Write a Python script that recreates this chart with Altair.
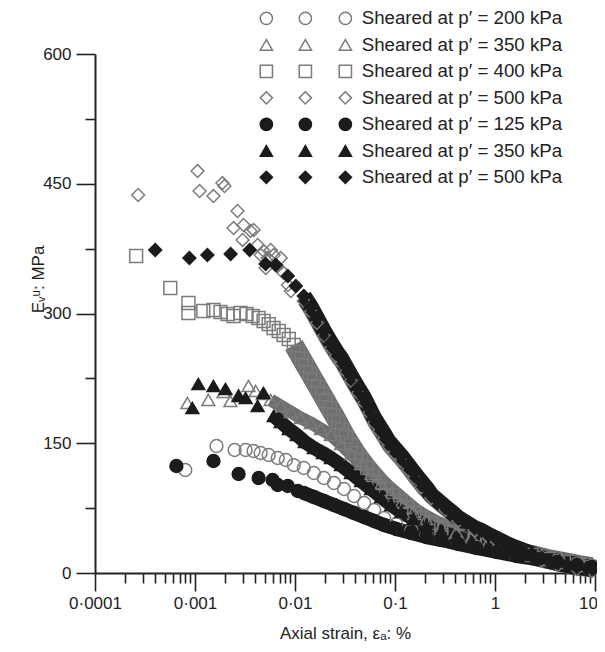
import altair as alt
import pandas as pd

# ---------------- data ----------------
SERIES = ["a200", "b350", "c400", "d500", "e125", "f350", "g500"]
SHAPES = ["circle", "triangle-up", "square", "diamond", "circle", "triangle-up", "diamond"]

# open circles, p' = 200 kPa
A200_EARLY_X = [8.0e-4, 1.64e-3, 2.49e-3, 3.21e-3, 3.85e-3, 4.53e-3, 5.46e-3, 6.72e-3, 8.1e-3, 9.73e-3]
A200_EARLY_Y = [119.1, 146.8, 142.2, 142.2, 141.0, 138.7, 136.4, 132.9, 130.6, 124.8]
A200_BAND_X = [0.01225, 0.01545, 0.01946, 0.02452, 0.0309, 0.0389, 0.0491, 0.0618, 0.0779, 0.1028,
               0.1455, 0.2056, 0.2909, 0.431, 0.653, 1.04, 1.65, 2.62, 4.15, 6.59, 9.33]
A200_BAND_Y = [121.4, 115.6, 109.8, 104.0, 97.1, 89.0, 80.9, 72.8, 63.6, 56.6,
               49.7, 43.9, 39.3, 34.7, 30.1, 25.4, 20.8, 17.3, 13.9, 10.4, 8.1]

# open triangles, p' = 350 kPa
B350_EARLY_X = [8.39e-4, 1.36e-3, 1.93e-3, 2.26e-3, 2.73e-3, 3.43e-3, 4.04e-3, 4.75e-3]
B350_EARLY_Y = [196.5, 200.0, 209.2, 198.8, 205.8, 216.2, 210.4, 206.9]
B350_BAND_X = [0.00571, 0.0072, 0.00908, 0.01143, 0.01441, 0.01815, 0.02287, 0.02882, 0.0363, 0.0458,
               0.0577, 0.0727, 0.0916, 0.1153, 0.1523, 0.2056, 0.2909, 0.4114, 0.582, 0.862,
               1.31, 1.94, 2.94, 4.66, 7.41, 9.77]
B350_BAND_Y = [200.0, 193.1, 186.1, 179.2, 173.4, 166.5, 159.5, 149.1, 137.6, 126.0,
               114.4, 102.9, 92.5, 80.9, 70.5, 62.4, 54.3, 47.4, 41.6, 35.8,
               30.1, 25.4, 20.8, 16.2, 11.6, 8.1]

# open squares, p' = 400 kPa
C400_EARLY_X = [2.58e-4, 5.66e-4, 8.6e-4, 8.6e-4, 1.21e-3, 1.53e-3, 1.80e-3, 2.12e-3, 2.43e-3, 2.85e-3,
                3.28e-3, 3.77e-3, 4.32e-3, 4.85e-3, 5.46e-3, 6.1e-3, 6.88e-3, 7.7e-3, 8.67e-3]
C400_EARLY_Y = [366.5, 329.5, 312.1, 300.6, 302.9, 304.0, 301.7, 299.4, 297.1, 300.6,
                299.4, 297.1, 294.8, 291.3, 287.8, 283.2, 279.8, 275.1, 270.5]
C400_BAND_X = [0.00973, 0.01067, 0.0117, 0.01283, 0.01409, 0.01545, 0.01694, 0.01858, 0.02037, 0.02234,
               0.02452, 0.0269, 0.02951, 0.03237, 0.0363, 0.0408, 0.0458, 0.0526, 0.0604, 0.0694,
               0.0817, 0.0959, 0.1128, 0.1325, 0.1559, 0.1875, 0.2308, 0.2909, 0.3664, 0.473,
               0.624, 0.843, 1.16, 1.65, 2.33, 3.37, 4.89, 6.91, 9.33]
C400_BAND_Y = [263.6, 255.5, 247.4, 239.3, 231.2, 223.1, 215.0, 206.9, 198.8, 190.7,
               182.6, 174.6, 165.3, 157.2, 148.0, 138.7, 130.6, 121.4, 113.3, 105.2,
               97.1, 90.2, 83.2, 76.3, 69.4, 63.6, 57.8, 52.0, 47.4, 42.8,
               38.1, 33.5, 28.9, 24.3, 20.8, 16.2, 12.7, 9.2, 6.9]

# open diamonds, p' = 500 kPa
D500_EARLY_X = [2.70e-4, 1.06e-3, 1.11e-3, 1.53e-3, 1.88e-3, 1.97e-3, 2.66e-3, 2.43e-3, 3.06e-3, 3.59e-3,
                2.99e-3, 3.86e-3, 4.23e-3, 4.54e-3, 4.86e-3, 5.71e-3, 6.12e-3, 5.33e-3, 7.20e-3, 5.10e-3,
                6.57e-3, 7.7e-3, 8.5e-3, 9.08e-3]
D500_EARLY_Y = [437.0, 464.7, 441.6, 435.8, 450.8, 447.4, 418.5, 398.8, 402.3, 395.4,
                385.0, 396.5, 379.2, 367.6, 372.2, 373.4, 367.6, 364.1, 364.1, 352.6,
                354.9, 346.8, 332.9, 326.0]
D500_BAND_X = [0.01225, 0.01441, 0.01655, 0.01946, 0.02287, 0.0257, 0.02882, 0.03237, 0.0363, 0.0427,
               0.0491, 0.0551, 0.0618, 0.0694, 0.0779, 0.0855, 0.0982, 0.1153, 0.1357, 0.1559,
               0.1832, 0.2308, 0.319, 0.431, 0.624, 0.862, 1.25, 1.85, 2.94, 4.25, 6.59, 9.33]
D500_BAND_Y = [314.4, 301.7, 289.0, 274.0, 260.1, 250.9, 242.8, 232.4, 222.0, 208.1,
               196.5, 184.9, 173.4, 164.2, 154.9, 146.8, 138.7, 129.5, 119.1, 109.8,
               99.4, 86.7, 72.8, 60.1, 48.6, 40.5, 31.2, 23.1, 15.0, 9.2, 4.6, 2.3]

# filled circles, p' = 125 kPa
E125_EARLY_X = [6.51e-4, 1.53e-3, 2.73e-3, 4.33e-3, 5.98e-3, 6.72e-3, 8.47e-3, 0.01067]
E125_EARLY_Y = [123.7, 129.5, 114.4, 109.8, 107.5, 101.7, 100.6, 94.8]
E125_BAND_X = [0.01225, 0.01545, 0.01946, 0.02452, 0.0309, 0.0389, 0.0491, 0.0618, 0.0779, 0.1028,
               0.1455, 0.2056, 0.2909, 0.431, 0.653, 1.04, 1.65, 2.62, 4.15, 6.59, 9.33]
E125_BAND_Y = [92.5, 87.9, 83.2, 78.6, 74.0, 69.4, 64.7, 60.1, 55.5, 50.9,
               46.2, 41.6, 38.1, 33.5, 28.9, 24.3, 19.7, 16.2, 12.7, 9.2, 6.9]

# filled triangles, p' = 350 kPa
F350_EARLY_X = [1.08e-3, 1.53e-3, 2.02e-3, 9.42e-4, 2.73e-3, 3.21e-3, 4.23e-3, 4.85e-3]
F350_EARLY_Y = [218.5, 216.2, 212.7, 190.7, 204.6, 202.3, 193.1, 208.1]
F350_BAND_X = [0.00612, 0.0072, 0.00867, 0.01042, 0.01254, 0.01545, 0.01901, 0.02287, 0.02882, 0.0363,
               0.0458, 0.0577, 0.0727, 0.0916, 0.1153, 0.1523, 0.2056, 0.2909, 0.4114, 0.582,
               0.862, 1.31, 1.94, 2.94, 4.45, 6.59, 9.33]
F350_BAND_Y = [181.5, 174.6, 166.5, 159.5, 151.4, 144.5, 138.7, 132.9, 124.8, 115.6,
               106.4, 97.1, 87.9, 78.6, 70.5, 62.4, 54.3, 47.4, 41.6, 35.8,
               30.1, 25.4, 20.8, 17.3, 13.9, 10.4, 6.9]

# filled diamonds, p' = 500 kPa
G500_EARLY_X = [4.0e-4, 8.79e-4, 1.33e-3, 2.27e-3, 3.52e-3, 5.09e-3, 6.42e-3, 8.47e-3, 0.0102]
G500_EARLY_Y = [373.4, 364.1, 367.6, 368.8, 373.4, 357.2, 356.0, 343.3, 331.8]
G500_BAND_X = [0.01225, 0.01441, 0.01655, 0.01946, 0.02287, 0.0257, 0.02882, 0.03237, 0.0363, 0.0427,
               0.0491, 0.0551, 0.0618, 0.0694, 0.0779, 0.0855, 0.0982, 0.1153, 0.1357, 0.1559,
               0.1832, 0.2056, 0.2308, 0.2715, 0.319, 0.3664, 0.431, 0.518, 0.624, 0.733,
               0.862, 1.04, 1.25, 1.54, 1.85, 2.33, 2.94, 3.45, 4.25, 5.24,
               6.59, 8.31, 9.6]
G500_BAND_Y = [320.2, 307.5, 294.8, 279.8, 265.9, 256.6, 248.5, 238.1, 227.7, 213.9,
               202.3, 190.7, 179.2, 169.9, 160.7, 152.6, 144.5, 135.3, 124.8, 115.6,
               105.2, 98.3, 90.2, 83.2, 76.3, 70.5, 63.6, 57.8, 52.0, 48.6,
               43.9, 39.3, 34.7, 30.1, 26.6, 22.0, 17.3, 13.9, 11.6, 9.2,
               6.9, 5.8, 4.6]

Y_TICKS = [0, 75, 150, 225, 300, 375, 450, 525, 600]
X_TICKS = [m * 10.0 ** e for e in range(-4, 1) for m in range(1, 10)] + [10.0]

# ---------------- build tables ----------------
series_data = {
    "a200": (A200_EARLY_X, A200_EARLY_Y, A200_BAND_X, A200_BAND_Y),
    "b350": (B350_EARLY_X, B350_EARLY_Y, B350_BAND_X, B350_BAND_Y),
    "c400": (C400_EARLY_X, C400_EARLY_Y, C400_BAND_X, C400_BAND_Y),
    "d500": (D500_EARLY_X, D500_EARLY_Y, D500_BAND_X, D500_BAND_Y),
    "e125": (E125_EARLY_X, E125_EARLY_Y, E125_BAND_X, E125_BAND_Y),
    "f350": (F350_EARLY_X, F350_EARLY_Y, F350_BAND_X, F350_BAND_Y),
    "g500": (G500_EARLY_X, G500_EARLY_Y, G500_BAND_X, G500_BAND_Y),
}
pt_rows, band_rows = [], []
for s in SERIES:
    ex, ey, bx, by = series_data[s]
    assert len(ex) == len(ey) and len(bx) == len(by), s
    for xv, yv in zip(ex + bx, ey + by):
        pt_rows.append({"series": s, "x": xv, "y": yv})
    for i, (xv, yv) in enumerate(zip(bx, by)):
        band_rows.append({"series": s, "x": xv, "y": yv, "ord": i})
pts_df = pd.DataFrame(pt_rows)
band_df = pd.DataFrame(band_rows)

# ---------------- style ----------------
FONT = "Liberation Sans"
INK = "#222222"
GRAY = "#7b7b7b"
BAND_GRAY = "#6e6e6e"
BLACK = "#1b1b1b"
FILLS = ["transparent"] * 4 + [BLACK] * 3
STROKES = [GRAY] * 4 + [BLACK] * 3
BAND_STYLE = {  # series -> (colour, width); open circles have no underlying band
    "b350": (BAND_GRAY, 13), "c400": (BAND_GRAY, 20), "d500": (BAND_GRAY, 13),
    "e125": (BLACK, 14), "f350": (BLACK, 14), "g500": (BLACK, 16),
}

x_scale = alt.Scale(type="log", domain=[1e-4, 10], nice=False)
y_scale = alt.Scale(domain=[0, 600], nice=False, zero=False)

major_x = "abs(log(datum.value)/LN10 - round(log(datum.value)/LN10)) < 0.001"
x_axis = alt.Axis(
    values=X_TICKS, grid=False, labelOverlap=False, labelFlush=False,
    labelExpr=f"{major_x} ? replace(format(datum.value, '~f'), '.', '·') : ''",
    labelOffset={"condition": {"test": "datum.value > 5", "value": -7}, "value": 0},
    tickSize={"condition": {"test": major_x, "value": 18}, "value": 10},
    tickColor=INK, tickWidth=1.6, domainColor=INK, domainWidth=2,
    labelFont=FONT, labelFontSize=17, labelColor=INK, labelPadding=4,
    title="Axial strain, εₐ: %", titleFont=FONT, titleFontSize=17, titleFontWeight="normal",
    titleColor=INK, titleBaseline="alphabetic", titleY=65,
)
major_y = "datum.value % 150 == 0"
y_axis = alt.Axis(
    values=Y_TICKS, grid=False, labelOverlap=False, labelFlush=False,
    labelExpr=f"{major_y} ? datum.label : ''",
    tickSize={"condition": {"test": major_y, "value": 19}, "value": 10},
    tickColor=INK, tickWidth=1.6, domainColor=INK, domainWidth=2,
    labelFont=FONT, labelFontSize=17, labelColor=INK, labelPadding=5,
    title="Eᵥᵘ: MPa", titleFont=FONT, titleFontSize=17, titleFontWeight="normal",
    titleColor=INK, titleX=-52, titleY=225, titleAngle=-90, titleBaseline="alphabetic",
)

X = alt.X("x:Q", scale=x_scale, axis=x_axis)
Y = alt.Y("y:Q", scale=y_scale, axis=y_axis)


def legend(x_off, with_labels):
    kw = dict(
        title=None, orient="none", legendX=x_off, legendY=-45, direction="vertical",
        padding=0, rowPadding=6.5, symbolSize=150, symbolStrokeWidth=1.5,
        labelFont=FONT, labelFontSize=18.7, labelColor=INK, labelLimit=400,
    )
    if with_labels:
        kw.update(labelExpr="'Sheared at p′ = ' + substring(datum.label, 1, 4) + ' kPa'", labelOffset=7)
    else:
        kw.update(labelExpr="''", labelOffset=0)
    return alt.Legend(**kw)


def sym_enc(field, leg):
    return dict(
        shape=alt.Shape(f"{field}:N", scale=alt.Scale(domain=SERIES, range=SHAPES), legend=leg),
        fill=alt.Fill(f"{field}:N", scale=alt.Scale(domain=SERIES, range=FILLS), legend=leg),
        stroke=alt.Stroke(f"{field}:N", scale=alt.Scale(domain=SERIES, range=STROKES), legend=leg),
    )


band_layers = []
for s in SERIES:
    if s not in BAND_STYLE:
        continue
    col, wid = BAND_STYLE[s]
    band_layers.append(
        alt.Chart(band_df).transform_filter(f"datum.series == '{s}'")
        .mark_line(strokeCap="butt", strokeJoin="round", color=col, strokeWidth=wid)
        .encode(x=X, y=Y, order=alt.Order("ord:Q"))
    )
bands = alt.layer(*band_layers)

points = alt.Chart(pts_df).mark_point(opacity=1, strokeWidth=1.5, size=165).encode(
    x=X, y=Y,
    **sym_enc("series", legend(241, True)),
)

leg_mid = alt.Chart(pts_df).transform_filter("false").transform_calculate(
    s2="datum.series").mark_point(opacity=1, strokeWidth=1.5).encode(
    x=X, y=Y, **sym_enc("s2", legend(201, False)))

leg_left = alt.Chart(pts_df).transform_filter("false").transform_calculate(
    s3="datum.series").mark_point(opacity=1, strokeWidth=1.5).encode(
    x=X, y=Y, **sym_enc("s3", legend(162, False)))

chart = alt.layer(bands, points, leg_mid, leg_left).resolve_scale(
    shape="independent", fill="independent", stroke="independent"
).properties(
    width=500, height=519,
    autosize=alt.AutoSizeParams(type="none"),
    padding={"left": 87, "top": 46, "right": 2, "bottom": 70},
    background="white",
).configure_view(stroke=None)

chart.save("out.html", embed_options={"renderer": "svg", "actions": False})
